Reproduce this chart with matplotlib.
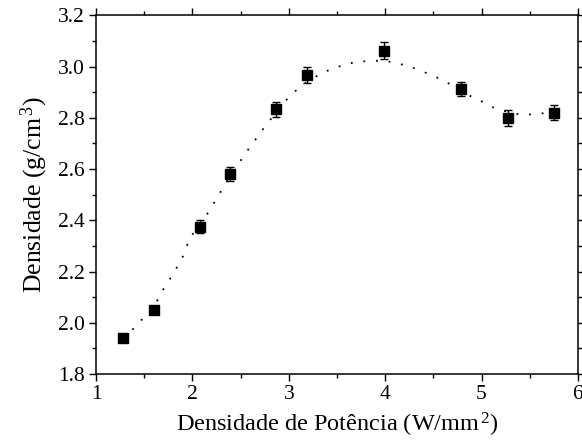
import matplotlib
matplotlib.use("Agg")
import matplotlib.pyplot as plt
from matplotlib.ticker import MultipleLocator

plt.rcParams['font.family'] = ['Liberation Serif', 'DejaVu Serif']
plt.rcParams['mathtext.fontset'] = 'custom'
plt.rcParams['mathtext.rm'] = 'Liberation Serif'
plt.rcParams['mathtext.it'] = 'Liberation Serif:italic'

# measured data
power = [1.28, 1.60, 2.08, 2.39, 2.87, 3.19, 3.99, 4.79, 5.27, 5.75]
density = [1.94, 2.05, 2.375, 2.582, 2.833, 2.968, 3.063, 2.912, 2.800, 2.820]
density_err = [0.012, 0.015, 0.025, 0.028, 0.028, 0.03, 0.032, 0.028, 0.03, 0.03]

# fitted curve
fit_x = [1.28, 1.37, 1.47, 1.60, 1.68, 1.80, 1.91, 1.975, 2.08, 2.13, 2.18, 2.245,
         2.30, 2.355, 2.42, 2.487, 2.55, 2.62, 2.69, 2.76, 2.88, 2.995, 3.09, 3.19,
         3.28, 3.38, 3.47, 3.565, 3.66, 3.76, 3.856, 3.95, 4.05, 4.146, 4.24,
         4.336, 4.43, 4.53, 4.62, 4.72, 4.81, 4.91, 5.005, 5.10, 5.197, 5.295,
         5.39, 5.49, 5.585, 5.67, 5.75]
fit_y = [1.94, 1.97, 2.01, 2.06, 2.12, 2.19, 2.265, 2.336, 2.375, 2.408, 2.443, 2.48,
         2.516, 2.551, 2.588, 2.625, 2.662, 2.697, 2.734, 2.77, 2.826, 2.879, 2.912,
         2.94, 2.961, 2.981, 2.994, 3.006, 3.015, 3.02, 3.023, 3.023, 3.019, 3.011,
         3.002, 2.989, 2.975, 2.959, 2.942, 2.922, 2.90, 2.88, 2.864, 2.844, 2.831,
         2.821, 2.814, 2.813, 2.816, 2.819, 2.822]

xticks = [1, 2, 3, 4, 5, 6]
yticks = [1.8, 2.0, 2.2, 2.4, 2.6, 2.8, 3.0, 3.2]

fig = plt.figure(figsize=(5.82, 4.41), dpi=100)
ax = fig.add_axes([0.165, 0.152, 0.828, 0.813])

ax.plot(fit_x, fit_y, color='black', lw=1.3, linestyle=(0, (1, 6)), zorder=2)
ax.errorbar(power, density, yerr=density_err, fmt='s', color='black', ms=7.5,
            ecolor='black', elinewidth=1.0, capsize=2.8, capthick=1.0, zorder=3)

ax.set_xlim(1, 6)
ax.set_ylim(1.8, 3.2)
ax.set_xticks(xticks)
ax.set_yticks(yticks)
ax.set_xticklabels([str(v) for v in xticks])
ax.set_yticklabels([f"{v:.1f}" for v in yticks])
ax.xaxis.set_minor_locator(MultipleLocator(0.5))
ax.yaxis.set_minor_locator(MultipleLocator(0.1))
ax.tick_params(which='both', direction='out', top=True, right=True,
               labelsize=15.5, width=1.0)
ax.tick_params(which='major', length=5, pad=3)
ax.tick_params(which='minor', length=3)
for s in ax.spines.values():
    s.set_linewidth(1.1)

ax.set_xlabel(r'Densidade de Potência (W/mm$^{\,2}$)', fontsize=17.5, labelpad=5)
ax.set_ylabel(r'Densidade (g/cm$^{\,3}$)', fontsize=18.5, labelpad=6)

fig.savefig('out.png', dpi=100)
